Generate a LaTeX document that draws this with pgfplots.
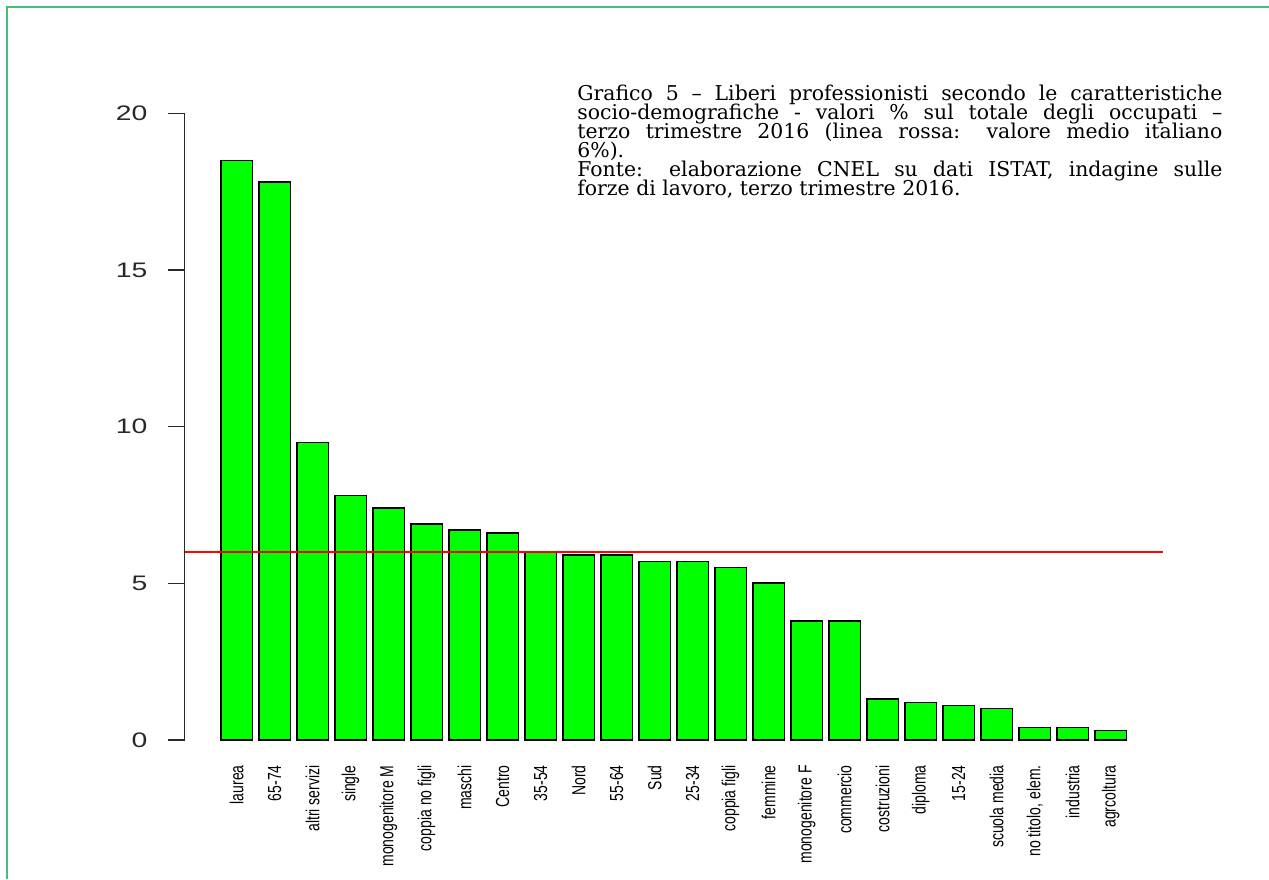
\documentclass[border=0pt]{standalone}
\usepackage{pgfplots}
\pgfplotsset{compat=1.18}
\usepackage{fontspec}
\setmainfont{Liberation Sans}
\newfontfamily\notefont{DejaVu Serif}
\definecolor{bordergreen}{RGB}{70,190,120}
\definecolor{bargreen}{RGB}{0,255,0}
\definecolor{axgray}{RGB}{40,40,40}
\newcommand{\xs}[1]{\scalebox{1}[1.35]{#1}}
\newcommand{\ys}[1]{\scalebox{1.35}[1]{#1}}
\newcommand{\jl}[1]{\makebox[322.5pt][s]{#1}}
\newcommand{\notesetup}{\notefont\fontsize{10.2}{9.5}\selectfont\lineskiplimit=-20pt\relax\lineskip=0pt\relax}
\begin{document}
\begin{tikzpicture}[x=0.5pt,y=0.5pt]
\path[use as bounding box] (0,0) rectangle (1269,879);
\draw[bordergreen, line width=0.8pt] (7,0) -- (7,872) -- (1269,872);
\begin{axis}[
  at={(92.25pt,57pt)}, anchor=south west,
  scale only axis, width=489.1pt, height=338.35pt,
  xmin=-0.944, xmax=29.944, ymin=-0.8, ymax=20.8,
  axis x line*=bottom, axis y line*=left,
  x axis line style={draw=none}, y axis line style={draw=none},
  ytick={0,5,10,15,20},
  yticklabels={\ys{0},\ys{5},\ys{10},\ys{15},\ys{20}},
  yticklabel style={xshift=-7pt, font=\fontsize{10.5}{12}\selectfont, text=axgray},
  tick align=outside, major tick length=8pt,
  ytick style={axgray, line width=0.75pt},
  xtick=data, xtick style={draw=none},
  xticklabels={\xs{laurea},\xs{65-74},\xs{altri servizi},\xs{single},\xs{monogenitore M},\xs{coppia no figli},\xs{maschi},\xs{Centro},\xs{35-54},\xs{Nord},\xs{55-64},\xs{Sud},\xs{25-34},\xs{coppia figli},\xs{femmine},\xs{monogenitore F},\xs{commercio},\xs{costruzioni},\xs{diploma},\xs{15-24},\xs{scuola media},\xs{no titolo, elem.},\xs{industria},\xs{agrcoltura}},
  xticklabel style={yshift=9pt, rotate=90, anchor=east, font=\fontsize{7}{8}\selectfont, inner sep=1pt},
  clip=false,
]
\addplot[ybar, bar width=1, fill=bargreen, draw=black, line width=0.8pt] coordinates {
(0.7,18.5) (1.9,17.8) (3.1,9.5) (4.3,7.8) (5.5,7.4) (6.7,6.9) (7.9,6.7) (9.1,6.6)
(10.3,6.0) (11.5,5.9) (12.7,5.9) (13.9,5.7) (15.1,5.7) (16.3,5.5) (17.5,5.0) (18.7,3.8)
(19.9,3.8) (21.1,1.3) (22.3,1.2) (23.5,1.1) (24.7,1.0) (25.9,0.4) (27.1,0.4) (28.3,0.3)
};
\addplot[red, line width=1.4pt] coordinates {(-0.944,6) (29.944,6)};
\draw[axgray, line width=0.75pt] (axis cs:-0.944,0) -- (axis cs:-0.944,20);
\end{axis}
\node[anchor=north west, inner sep=0pt, align=left, font=\notesetup] at (577,794) {%
\jl{Grafico 5 – Liberi professionisti secondo le caratteristiche}\\
\jl{socio-demografiche - valori \% sul totale degli occupati –}\\
\jl{terzo trimestre 2016 (linea rossa: valore medio italiano}\\
6\%).\\
\jl{Fonte: elaborazione CNEL su dati ISTAT, indagine sulle}\\
forze di lavoro, terzo trimestre 2016.};
\end{tikzpicture}
\end{document}
